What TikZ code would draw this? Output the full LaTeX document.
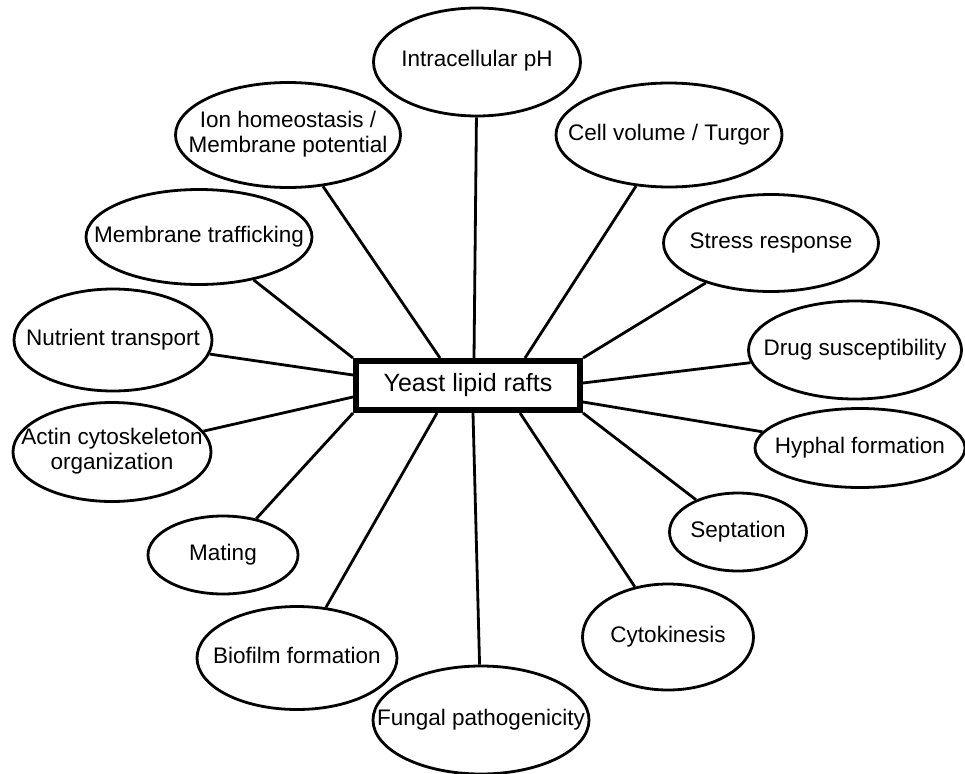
\documentclass[tikz,border=0pt]{standalone}
\usepackage{fontspec}
\setmainfont{Liberation Sans}
\usetikzlibrary{shapes.geometric}
\newcommand{\bubtext}[1]{\makebox[0pt][c]{\begin{tabular}{@{}c@{}}#1\end{tabular}}}
\begin{document}
\begin{tikzpicture}[x=1pt,y=-1pt,
  bub/.style={ellipse,draw,line width=2.8pt,inner sep=0pt,fill=white,
    font=\fontsize{22.5}{25}\selectfont},
  link/.style={line width=2.8pt}]
\useasboundingbox[fill=white] (0,0) rectangle (965,773);
\node[draw,fill=white,line width=6pt,minimum width=224pt,minimum height=49pt,inner sep=0pt,
  font=\fontsize{25}{28}\selectfont] (box) at (468,385.5) {Yeast lipid rafts};
\node[bub,minimum width=207pt,minimum height=108pt] (ph) at (477,62) {\bubtext{Intracellular pH}};
\node[bub,minimum width=225pt,minimum height=105pt] (ion) at (288,135) {\bubtext{Ion homeostasis /\\Membrane potential}};
\node[bub,minimum width=226pt,minimum height=104pt] (cell) at (669,135) {\bubtext{Cell volume / Turgor}};
\node[bub,minimum width=226pt,minimum height=95pt] (mt) at (199,237) {\bubtext{Membrane trafficking}};
\node[bub,minimum width=215pt,minimum height=97pt] (stress) at (771,243) {\bubtext{Stress response}};
\node[bub,minimum width=198pt,minimum height=102pt] (nut) at (113,340) {\bubtext{Nutrient transport}};
\node[bub,minimum width=213pt,minimum height=98pt] (drug) at (855,350) {\bubtext{Drug susceptibility}};
\node[bub,minimum width=198pt,minimum height=99pt] (actin) at (112,452) {\bubtext{Actin cytoskeleton\\organization}};
\node[bub,minimum width=210pt,minimum height=79pt] (hyph) at (860,448) {\bubtext{Hyphal formation}};
\node[bub,minimum width=150pt,minimum height=78pt] (mating) at (223,555) {\bubtext{Mating}};
\node[bub,minimum width=137pt,minimum height=78pt] (sept) at (738,532) {\bubtext{Septation}};
\node[bub,minimum width=200pt,minimum height=103pt] (bio) at (297,658) {\bubtext{Biofilm formation}};
\node[bub,minimum width=171pt,minimum height=106pt] (cyto) at (668,637) {\bubtext{Cytokinesis}};
\node[bub,minimum width=216pt,minimum height=108pt] (fung) at (481,720) {\bubtext{Fungal pathogenicity}};
\draw[link] ([xshift=6pt]box.north) -- (ph);
\draw[link] ([xshift=-28pt]box.north) -- (ion);
\draw[link] ([xshift=57pt]box.north) -- (cell);
\draw[link] (box.north west) -- (mt);
\draw[link] (box.north east) -- (stress);
\draw[link] ([yshift=-17pt]box.north west) -- (nut);
\draw[link] ([yshift=16pt]box.south west) -- (actin);
\draw[link] (box.south west) -- (mating);
\draw[link] ([xshift=-31pt]box.south) -- (bio);
\draw[link] ([xshift=5pt]box.south) -- (fung);
\draw[link] ([xshift=52pt]box.south) -- (cyto);
\draw[link] (box.south east) -- (sept);
\draw[link] ([yshift=-25pt]box.north east) -- (drug);
\draw[link] ([yshift=11pt]box.south east) -- (hyph);
\end{tikzpicture}
\end{document}
